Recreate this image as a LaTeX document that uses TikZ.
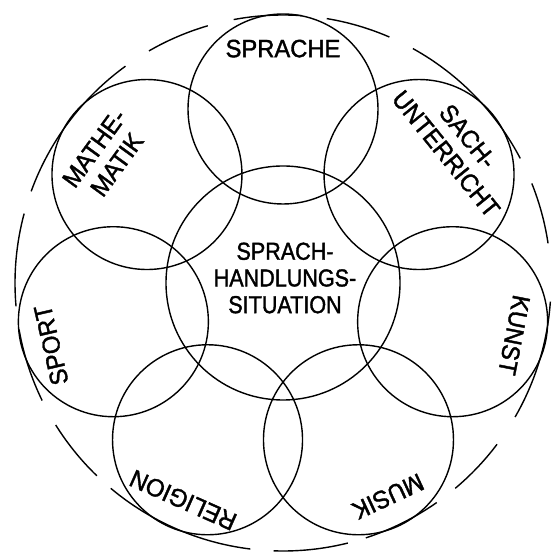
\documentclass[tikz,border=0pt]{standalone}
\usepackage{fontspec}
\setmainfont{Liberation Sans}[FakeBold=1.5,FakeStretch=0.95]
\newfontfamily\ctrfont{Liberation Sans}[FakeBold=1.5,FakeStretch=0.88]
\usetikzlibrary{calc}
\begin{document}
\begin{tikzpicture}[x=1pt,y=1pt,
  ring/.style={circle,draw,line width=1.4pt,minimum size=190pt,inner sep=0pt},
  hub/.style={circle,draw,line width=1.4pt,minimum size=234pt,inner sep=0pt},
  lbl/.style={inner sep=0pt,align=center,font=\fontsize{25}{28}\selectfont},
  ctr/.style={inner sep=0pt,align=center,font=\ctrfont\fontsize{24.5}{26.7}\selectfont},
  ringdash/.style={line width=1.4pt}]
\useasboundingbox (0,0) rectangle (552,556);
\coordinate (C) at (283,273);
% outer broken ring
\foreach \a/\b in {8.5/21.8, 27.7/61, 66.6/80.6, 86/100.6, 106.3/120, 126/160, 165/185, 190/206, 212/226, 230/263, 268/284, 288/305, 310/323, 330/356}
  \draw[ringdash] ($(C)+(\a:268pt)$) arc[start angle=\a, end angle=\b, radius=268pt];
% circles
\node[hub] (hub) at (C) {};
\node[ring] (sprache) at ($(C)+(90:174pt)$) {};
\node[ring] (sach)    at ($(C)+(38.57:174pt)$) {};
\node[ring] (kunst)   at ($(C)+(-12.86:174pt)$) {};
\node[ring] (musik)   at ($(C)+(-64.29:174pt)$) {};
\node[ring] (relig)   at ($(C)+(-115.71:174pt)$) {};
\node[ring] (sport)   at ($(C)+(-167.14:174pt)$) {};
\node[ring] (mathe)   at ($(C)+(141.43:174pt)$) {};
% labels
\node[ctr] (tsituation) at (285,278) {SPRACH-\\HANDLUNGS-\\SITUATION};
\node[lbl] (tsprache) at ($(C)+(90:234.4pt)$) {SPRACHE};
\node[lbl,rotate=-51] (tsach) at ($(C)+(38.4:222pt)$) {SACH-\\UNTERRICHT};
\node[lbl,rotate=-101] (tkunst) at ($(C)+(-12.7:237pt)$) {KUNST};
\node[lbl,rotate=-155] (tmusik) at ($(C)+(-63.8:238pt)$) {MUSIK};
\node[lbl,rotate=156] (treligion) at ($(C)+(-114.7:239pt)$) {RELIGION};
\node[lbl,rotate=103] (tsport) at ($(C)+(195:240pt)$) {SPORT};
\node[lbl,rotate=54] (tmathe) at ($(C)+(144.5:218pt)$) {MATHE-\\MATIK};
\end{tikzpicture}
\end{document}
